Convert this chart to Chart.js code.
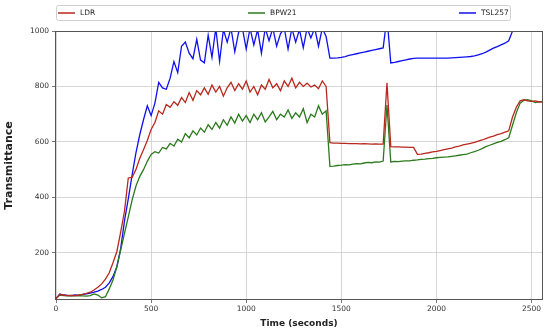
<!DOCTYPE html>
<html>
<head>
<meta charset="utf-8">
<script src="https://cdn.jsdelivr.net/npm/chart.js@4.4.1/dist/chart.umd.min.js"></script>
<style>
  html, body { margin: 0; padding: 0; background: #fff; }
  canvas { display: block; }
</style>
</head>
<body>
<canvas id="chart" width="550" height="333"></canvas>
<script>
// sample times (seconds)
const times = [
  0, 20, 40, 60, 80, 100, 120, 140, 160, 180,
  200, 220, 240, 260, 280, 300, 320, 340, 360, 380,
  400, 420, 440, 460, 480, 500, 520, 540, 560, 580,
  600, 620, 640, 660, 680, 700, 720, 740, 760, 780,
  800, 820, 840, 860, 880, 900, 920, 940, 960, 980,
  1000, 1020, 1040, 1060, 1080, 1100, 1120, 1140, 1160, 1180,
  1200, 1220, 1240, 1260, 1280, 1300, 1320, 1340, 1360, 1380,
  1400, 1420, 1440, 1460, 1480, 1500, 1520, 1540, 1560, 1580,
  1600, 1620, 1640, 1660, 1680, 1700, 1720, 1740, 1760, 1780,
  1800, 1820, 1840, 1860, 1880, 1900, 1920, 1940, 1960, 1980,
  2000, 2020, 2040, 2060, 2080, 2100, 2120, 2140, 2160, 2180,
  2200, 2220, 2240, 2260, 2280, 2300, 2320, 2340, 2360, 2380,
  2400, 2420, 2440, 2460, 2480, 2500, 2520, 2540, 2560
];

const ldr = [
  35, 50, 48, 46, 47, 46, 48, 50, 54, 58,
  66, 76, 88, 105, 128, 165, 205, 275, 350, 470,
  472, 500, 540, 572, 605, 645, 670, 712, 700, 735,
  725, 745, 732, 760, 742, 778, 750, 785, 770, 795,
  772, 805, 780, 800, 765, 795, 815, 785, 810, 790,
  820, 780, 800, 770, 805, 790, 825, 795, 810, 785,
  820, 800, 830, 795, 815, 800, 812, 798, 805, 792,
  820, 800, 597, 596, 596, 595, 595, 594, 594, 594,
  593, 594, 593, 592, 593, 592, 592, 813, 583, 582,
  582, 581, 581, 580, 580, 555, 556, 559, 561, 564,
  566, 569, 572, 575, 578, 582, 585, 589, 592, 595,
  598, 603, 607, 612, 617, 621, 626, 630, 635, 640,
  690, 725, 748, 752, 748, 746, 748, 744, 745
];

const bpw21 = [
  35, 48, 46, 45, 46, 45, 46, 45, 44, 46,
  52, 48, 38, 42, 70, 103, 150, 210, 270, 330,
  390, 440, 475, 500, 530, 555, 565, 560, 580, 575,
  595, 585, 610, 600, 630, 615, 640, 625, 650, 635,
  662, 645, 670, 650, 680, 660, 690, 668, 700, 675,
  695, 670, 700, 680, 705, 672, 690, 710, 680, 700,
  690, 715, 685, 705, 690, 720, 670, 700, 690, 730,
  700, 712, 512, 513, 515, 516, 518, 517, 520, 522,
  521, 524, 526, 525, 528, 527, 531, 733, 528, 530,
  529, 531, 532, 532, 534, 535, 537, 538, 540, 541,
  543, 544, 545, 546, 548, 550, 552, 554, 556, 561,
  565, 570, 576, 583, 588, 593, 598, 602, 608, 615,
  660, 705, 740, 750, 752, 748, 742, 745, 744
];

const tsl257 = [
  35, 52, 48, 47, 46, 48, 47, 50, 52, 55,
  58, 62, 68, 76, 92, 115, 150, 215, 315, 395,
  480, 560, 625, 680, 730, 695, 740, 815, 795, 790,
  830, 890, 850, 945, 960, 920, 900, 970, 895, 885,
  985, 905, 1010, 890, 1005, 960, 1010, 925, 995, 1010,
  935, 1010, 950, 1005, 920, 1010, 965, 1010, 945, 990,
  1010, 935, 1010, 960, 1005, 940, 1010, 975, 1010, 945,
  1010, 980, 902, 902, 903, 905, 908, 912, 915, 918,
  921, 924, 927, 930, 933, 936, 939, 1050, 885, 887,
  890, 893, 896, 899, 901, 902, 902, 902, 902, 902,
  902, 902, 902, 902, 903, 904, 905, 906, 907, 908,
  910, 914, 918, 924, 931, 938, 944, 950, 956, 965,
  1000, 1030, 1030, 1030, 1030, 1030, 1030, 1030, 1030
];

const seriesNames = ["LDR", "BPW21", "TSL257"];
const seriesColors = ["#b8281e", "#2a7a1c", "#1010ee"];
const xTicks = [0, 500, 1000, 1500, 2000, 2500];
const yTicks = [200, 400, 600, 800, 1000];

function toPoints(values) {
  return times.map((t, i) => ({ x: t, y: values[i] }));
}

Chart.defaults.font.family = "'DejaVu Sans', sans-serif";
Chart.defaults.color = "#333";

// box around the plot area, like matplotlib spines
const framePlugin = {
  id: "frame",
  afterDatasetsDraw(chart) {
    const { ctx, chartArea: a } = chart;
    ctx.save();
    ctx.strokeStyle = "#555";
    ctx.lineWidth = 1;
    ctx.strokeRect(Math.round(a.left) - 0.5, Math.round(a.top) + 0.5,
      Math.round(a.right - a.left) + 1, Math.round(a.bottom - a.top) - 1);
    ctx.restore();
  }
};

// legend spread across the top in one row
const legendPlugin = {
  id: "spreadLegend",
  afterDraw(chart) {
    const ctx = chart.ctx;
    const lineStarts = [58, 248, 459];
    ctx.save();
    ctx.fillStyle = "rgba(255,255,255,0.8)";
    ctx.strokeStyle = "#d0d0d0";
    ctx.lineWidth = 1;
    ctx.beginPath();
    ctx.roundRect(56.5, 5.5, 454, 15, 2);
    ctx.fill();
    ctx.stroke();
    ctx.font = "7.5px 'DejaVu Sans'";
    ctx.textBaseline = "middle";
    ctx.textAlign = "left";
    seriesNames.forEach((name, i) => {
      const x = lineStarts[i];
      ctx.strokeStyle = seriesColors[i];
      ctx.lineWidth = 1.5;
      ctx.beginPath();
      ctx.moveTo(x, 13);
      ctx.lineTo(x + 17, 13);
      ctx.stroke();
      ctx.fillStyle = "#222";
      ctx.fillText(name, x + 22, 13.5);
    });
    ctx.restore();
  }
};

const datasets = [ldr, bpw21, tsl257].map((values, i) => ({
  label: seriesNames[i],
  data: toPoints(values),
  borderColor: seriesColors[i],
  borderWidth: 1.3,
  pointRadius: 0,
  fill: false,
  tension: 0,
}));

new Chart(document.getElementById("chart").getContext("2d"), {
  type: "line",
  data: { datasets: datasets },
  plugins: [framePlugin, legendPlugin],
  options: {
    responsive: false,
    animation: false,
    devicePixelRatio: 1,
    layout: { padding: { left: 0, right: 8, top: 31, bottom: 0 } },
    plugins: {
      legend: { display: false },
      tooltip: { enabled: false },
    },
    scales: {
      x: {
        type: "linear",
        min: 0,
        max: 2555,
        afterBuildTicks: (axis) => { axis.ticks = xTicks.map((v) => ({ value: v })); },
        afterFit: (axis) => { axis.height = 33; },
        border: { display: false },
        grid: { color: "#cccccc", lineWidth: 0.8, tickLength: 3, tickColor: "#555" },
        ticks: { font: { size: 7.5 }, padding: 2, maxRotation: 0, color: "#333", callback: (v) => String(v) },
        title: {
          display: true,
          text: "Time (seconds)",
          font: { size: 9, weight: "bold" },
          color: "#222",
        },
      },
      y: {
        type: "linear",
        min: 30,
        max: 1000,
        afterBuildTicks: (axis) => { axis.ticks = yTicks.map((v) => ({ value: v })); },
        afterFit: (axis) => { axis.width = 56; },
        border: { display: false },
        grid: { color: "#cccccc", lineWidth: 0.8, tickLength: 4, tickColor: "#555" },
        ticks: { font: { size: 7.5 }, padding: 3, color: "#333", callback: (v) => String(v) },
        title: {
          display: true,
          text: "Transmittance",
          font: { size: 11, weight: "bold" },
          color: "#222",
          padding: { top: 3, bottom: 0 },
        },
      },
    },
  },
});
</script>
</body>
</html>
